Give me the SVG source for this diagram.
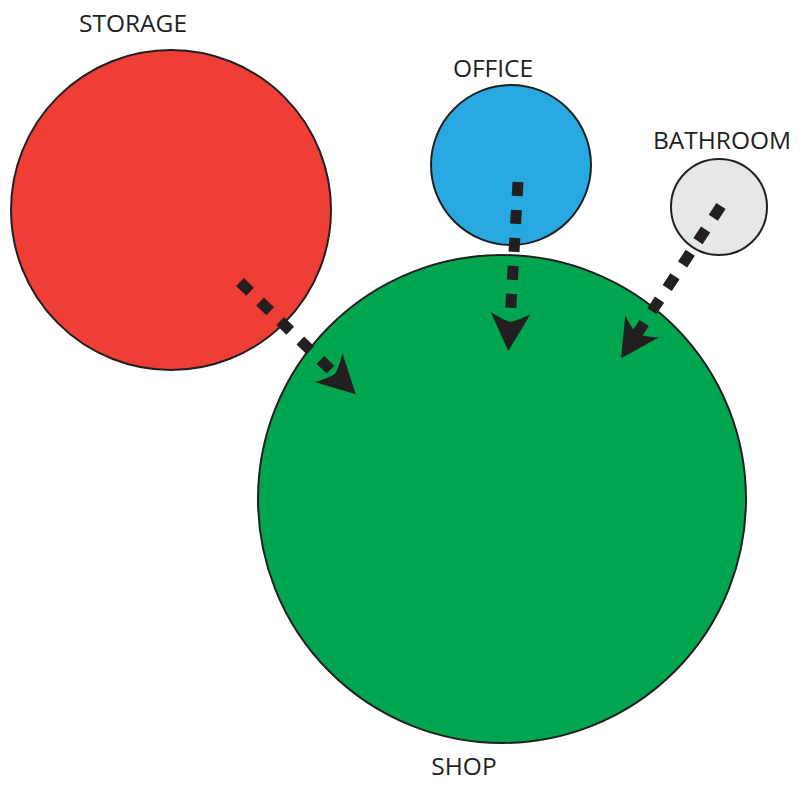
<svg xmlns="http://www.w3.org/2000/svg" width="801" height="785" viewBox="0 0 801 785">
<defs>
<style>
.room{stroke:#231f20;stroke-width:2}
.lbl{font-family:"Open Sans","Liberation Sans",sans-serif;font-size:24.5px;fill:#231f20;text-anchor:middle}
.flow{fill:none;stroke:#231f20;stroke-width:11;stroke-dasharray:14 14;marker-end:url(#ah)}
</style>
<marker id="ah" markerUnits="userSpaceOnUse" viewBox="-12 -22 44 44" markerWidth="44" markerHeight="44" refX="0" refY="0" orient="auto" overflow="visible">
<path d="M29,0 L-9,-20 Q-2,-8 0,0 Q-2,8 -9,20 Z" fill="#231f20"/>
</marker>
</defs>
<rect width="801" height="785" fill="#fff"/>
<g id="storage">
<circle class="room" cx="171" cy="210" r="160" fill="#ef3e36"/>
<text class="lbl" x="133" y="32">STORAGE</text>
</g>
<g id="office">
<circle class="room" cx="511" cy="165" r="80" fill="#27a8e0"/>
<text class="lbl" x="493" y="77">OFFICE</text>
</g>
<g id="bathroom">
<circle class="room" cx="719" cy="207" r="48" fill="#e6e7e8"/>
<text class="lbl" x="722" y="149">BATHROOM</text>
</g>
<g id="shop">
<circle class="room" cx="502" cy="499" r="244" fill="#00a54f"/>
<text class="lbl" x="464" y="775">SHOP</text>
</g>
<g id="connectors">
<path class="flow" d="M240,282 L335,374"/>
<path class="flow" d="M518,182 L510,322"/>
<path class="flow" d="M721,206 L637,334"/>
</g>
</svg>
